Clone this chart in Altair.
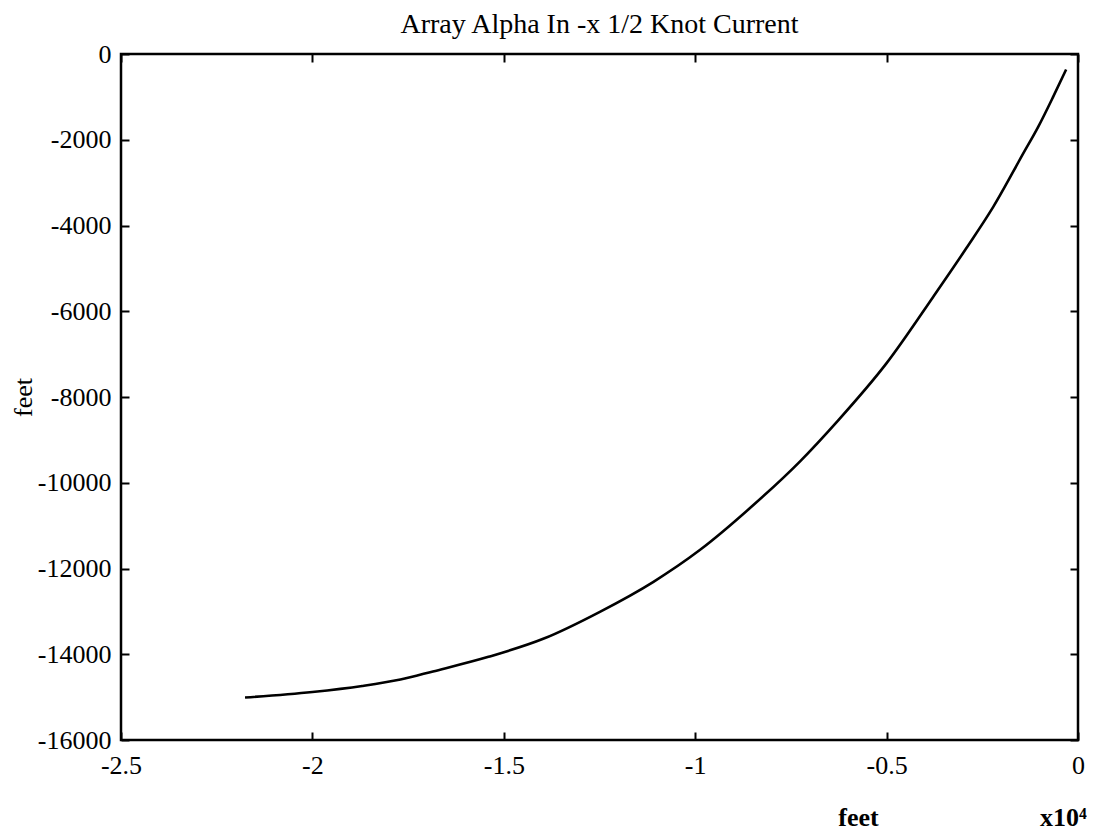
import altair as alt
import pandas as pd

# Curve (x in units of 1e4 feet, y in feet)
x_1e4 = [-2.176, -2.000, -1.870, -1.770, -1.685, -1.540, -1.397, -1.249, -1.109,
         -0.988, -0.848, -0.726, -0.627, -0.500, -0.378, -0.291, -0.221, -0.143,
         -0.104, -0.065, -0.031]
y_ft = [-15010, -14880, -14740, -14590, -14400, -14060, -13640, -13010, -12310,
        -11570, -10520, -9500, -8550, -7210, -5660, -4520, -3560, -2320,
        -1700, -1000, -360]

x_ticks = [-2.5, -2, -1.5, -1, -0.5, 0]
y_ticks = [-16000, -14000, -12000, -10000, -8000, -6000, -4000, -2000, 0]

title_text = "Array Alpha In -x 1/2 Knot Current"
x_title = "feet"
y_title = "feet"
x_exp = "x10\u2074"

df = pd.DataFrame({"x": x_1e4, "y": y_ft, "order": list(range(len(x_1e4)))})

FONT = "Liberation Serif"
FS = 26
W, H = 957, 686

xs = alt.Scale(domain=[-2.5, 0], nice=False, zero=False)
ys = alt.Scale(domain=[-16000, 0], nice=False, zero=False)

common_tick_axis = dict(values=x_ticks, labels=False, domain=False, grid=False,
                        ticks=True, tickSize=8, tickWidth=2, tickColor="black",
                        offset=-8)
common_tick_axis_y = dict(values=y_ticks, labels=False, domain=False, grid=False,
                          ticks=True, tickSize=8, tickWidth=2, tickColor="black",
                          offset=-8)

base = alt.Chart(df)

main = base.mark_line(color="black", strokeWidth=2.6, interpolate="monotone").encode(
    x=alt.X("x:Q", scale=xs, axis=alt.Axis(
        orient="bottom", values=x_ticks, labelExpr="'' + datum.value",
        ticks=False, domain=False, grid=False, labelFlush=False, labelOverlap=False,
        labelFont=FONT, labelFontSize=FS, labelColor="black", labelPadding=12,
        title=x_title, titleFont=FONT, titleFontSize=FS, titleFontWeight="bold",
        titleColor="black", titleX=737, titleY=85, titleAlign="center",
        titleBaseline="alphabetic", titleAnchor="start")),
    y=alt.Y("y:Q", scale=ys, axis=alt.Axis(
        orient="left", values=y_ticks, labelExpr="'' + datum.value",
        ticks=False, domain=False, grid=False, labelFlush=False, labelOverlap=False,
        labelFont=FONT, labelFontSize=FS, labelColor="black", labelPadding=10,
        title=y_title, titleFont=FONT, titleFontSize=FS, titleFontWeight="normal",
        titleColor="black", titleX=-98, titleY=343, titleAngle=-90,
        titleAlign="center", titleBaseline="middle", titleAnchor="start")),
    order="order:Q",
)

ticks_bl = base.mark_line(opacity=0).encode(
    x=alt.X("x:Q", scale=xs, axis=alt.Axis(
        orient="bottom", **common_tick_axis,
        title=x_exp, titleFont=FONT, titleFontSize=FS, titleFontWeight="bold",
        titleColor="black", titleX=942, titleY=93, titleAlign="center",
        titleBaseline="alphabetic", titleAnchor="start")),
    y=alt.Y("y:Q", scale=ys, axis=alt.Axis(orient="left", title=None, **common_tick_axis_y)),
    order="order:Q",
)

ticks_tr = base.mark_line(opacity=0).encode(
    x=alt.X("x:Q", scale=xs, axis=alt.Axis(orient="top", title=None, **common_tick_axis)),
    y=alt.Y("y:Q", scale=ys, axis=alt.Axis(orient="right", title=None, **common_tick_axis_y)),
    order="order:Q",
)

chart = alt.layer(main, ticks_bl, ticks_tr).resolve_axis(
    x="independent", y="independent"
).properties(
    width=W, height=H,
    background="white",
    title=alt.TitleParams(title_text, font=FONT, fontSize=28, fontWeight="normal",
                          color="black", anchor="middle", offset=2),
    autosize=alt.AutoSizeParams(type="none"),
    padding={"left": 113, "top": 46, "right": 9, "bottom": 91},
).configure_view(
    stroke="black", strokeWidth=2.5
)

chart.save("out.html", embed_options={"renderer": "svg", "actions": False})
